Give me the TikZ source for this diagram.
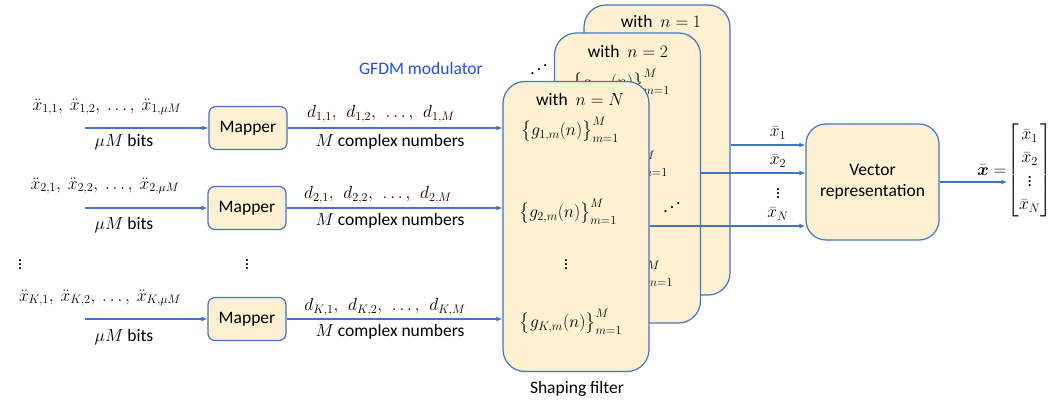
\RequirePackage{fix-cm}
\documentclass[tikz,border=0pt]{standalone}
\usepackage{amsmath}
\usepackage[no-math]{fontspec}
\setmainfont{Carlito}
\usetikzlibrary{arrows.meta}
\definecolor{bblue}{HTML}{4472C4}
\definecolor{bfill}{HTML}{FDF1D2}
\definecolor{gblue}{HTML}{1F4EFF}
\newcommand{\myudots}{\mathinner{\mkern1mu\raise1pt\hbox{.}\mkern2mu\raise5pt\hbox{.}\mkern2mu\raise9pt\hbox{.}\mkern1mu}}
\begin{document}
\begin{tikzpicture}[x=1pt,y=-1pt,
  font=\fontsize{17.5}{21}\selectfont,
  every node/.style={inner sep=1pt},
  bigbox/.style={draw=bblue, fill=bfill, line width=1.2pt, rounded corners=22pt, minimum width=146pt, minimum height=290pt},
  mapbox/.style={draw=bblue, fill=bfill, line width=1.2pt, rounded corners=7pt, minimum width=78pt, minimum height=43pt},
  arr/.style={draw=bblue, line width=1.1pt, -{Latex[length=6pt,width=5pt]}}
]
\useasboundingbox (0,0) rectangle (1053,401);

% stacked shaping-filter boxes
\node[bigbox] (bbox) at (657,150) {};
\node (bwith) at (661,21) {with \ $n=1$};
\node[bigbox] (mbox) at (627.5,178) {};
\node (mwith) at (628,51) {with \ $n=2$};
\node (mg1) at (621,82) {$\bigl\{g_{1,m}(n)\bigr\}_{m=1}^{M}$};
\node (mg2) at (619,164) {$\bigl\{g_{2,m}(n)\bigr\}_{m=1}^{M}$};
\node (mgK) at (622,274) {$\bigl\{g_{K,m}(n)\bigr\}_{m=1}^{M}$};
\node (mdots) at (672,208) {$\myudots$};
\node[bigbox] (fbox) at (576,226.5) {};
\node (fwith) at (580,99) {with \ $n=N$};
\node (fg1) at (570,130) {$\bigl\{g_{1,m}(n)\bigr\}_{m=1}^{M}$};
\node (fg2) at (568,212) {$\bigl\{g_{2,m}(n)\bigr\}_{m=1}^{M}$};
\node (fvd) at (566,262) {$\vdots$};
\node (fgK) at (571,322) {$\bigl\{g_{K,m}(n)\bigr\}_{m=1}^{M}$};
\node (tdots) at (539,70) {$\myudots$};
\node (shape) at (577,389) {Shaping filter};
\node[text=gblue] (gfdm) at (421,68) {GFDM modulator};

% mappers
\node[mapbox] (map1) at (248,128) {Mapper};
\node[mapbox] (map2) at (247,208) {Mapper};
\node[mapbox] (mapK) at (247,319) {Mapper};

\node (in1) at (107,107) {$\ddot{x}_{1,1},\ \ddot{x}_{1,2},\ \ldots,\ \ddot{x}_{1,\mu M}$};
\node (in2) at (105,186) {$\ddot{x}_{2,1},\ \ddot{x}_{2,2},\ \ldots,\ \ddot{x}_{2,\mu M}$};
\node (inK) at (100,298) {$\ddot{x}_{K,1},\ \ddot{x}_{K,2},\ \ldots,\ \ddot{x}_{K,\mu M}$};
\node (b1) at (124,142) {$\mu M$\ bits};
\node (b2) at (124,225) {$\mu M$\ bits};
\node (bK) at (124,337) {$\mu M$\ bits};
\node (lvd) at (20,262) {$\vdots$};
\node (mvd) at (247,262) {$\vdots$};

\node (d1) at (381,114) {$d_{1,1},\ \,d_{1,2},\ \,\ldots,\ \,d_{1,M}$};
\node (d2) at (378,195) {$d_{2,1},\ \,d_{2,2},\ \,\ldots,\ \,d_{2,M}$};
\node (dK) at (385,307) {$d_{K,1},\ \,d_{K,2},\ \,\ldots,\ \,d_{K,M}$};
\node (c1) at (390,142) {$M$\ complex numbers};
\node (c2) at (390,221) {$M$\ complex numbers};
\node (cK) at (390,332) {$M$\ complex numbers};

\coordinate (s1) at (85,128);
\coordinate (s2) at (85,208);
\coordinate (sK) at (85,319);
\draw[arr] (s1) -- (map1.west);
\draw[arr] (s2) -- (map2.west);
\draw[arr] (sK) -- (mapK.west);
\draw[arr] (map1.east) -- (fbox.west |- map1.east);
\draw[arr] (map2.east) -- (fbox.west |- map2.east);
\draw[arr] (mapK.east) -- (fbox.west |- mapK.east);

% vector representation
\node[draw=bblue, fill=bfill, line width=1.2pt, rounded corners=20pt, minimum width=133pt, minimum height=116pt, align=center] (vr) at (872.5,182) {Vector\\representation};
\coordinate (y1) at (0,145);
\coordinate (y2) at (0,173);
\coordinate (yN) at (0,226);
\draw[arr] (bbox.east |- y1) -- (vr.west |- y1);
\draw[arr] (mbox.east |- y2) -- (vr.west |- y2);
\draw[arr] (fbox.east |- yN) -- (vr.west |- yN);
\node (x1) at (778,133) {$\bar{x}_1$};
\node (x2) at (778,161) {$\bar{x}_2$};
\node (xvd) at (778,191) {$\vdots$};
\node (xN) at (778,214) {$\bar{x}_N$};

\node[anchor=east, inner sep=0pt] (vec) at (1052,170) {\renewcommand{\arraystretch}{1.12}$\begin{bmatrix}\bar{x}_1\\ \bar{x}_2\\ \vdots\\ \bar{x}_N\end{bmatrix}$};
\node[anchor=east] (eq) at (vec.west) {$\bar{\boldsymbol{x}} =$};
\draw[arr] (vr.east) -- (vr.east -| vec.west);
\end{tikzpicture}
\end{document}
